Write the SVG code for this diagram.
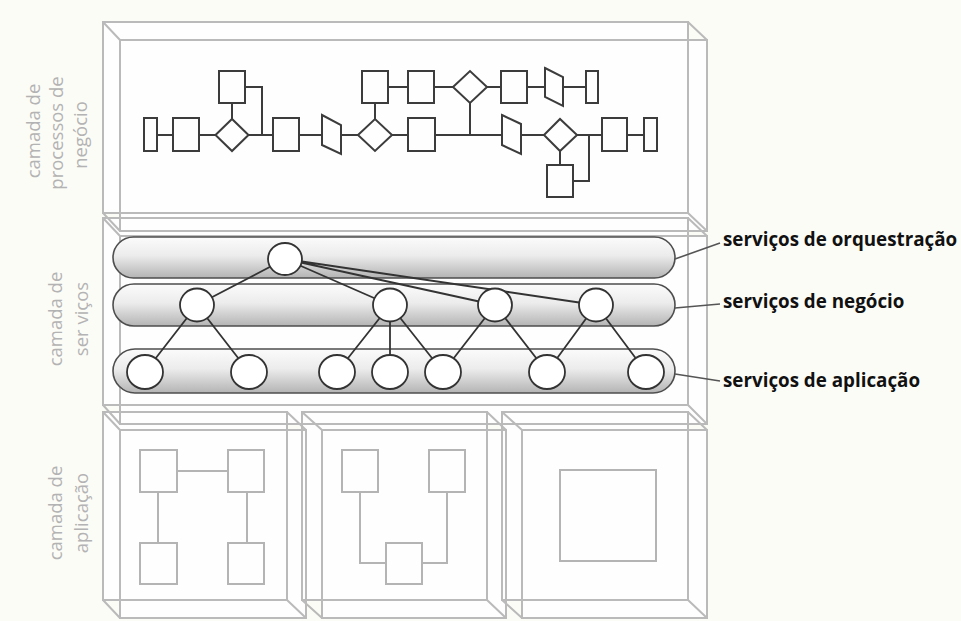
<svg xmlns="http://www.w3.org/2000/svg" width="961" height="621" viewBox="0 0 961 621">
<defs>
<linearGradient id="pillGrad" x1="0" y1="0" x2="0" y2="1">
<stop offset="0" stop-color="#fbfbfb"/>
<stop offset="0.45" stop-color="#ececec"/>
<stop offset="1" stop-color="#b4b4b4"/>
</linearGradient>
<style>
.bg{fill:#fcfcf7}
.boxfill{fill:#fefefe;stroke:none}
.box{fill:none;stroke:#bababa;stroke-width:2}
.app{fill:none;stroke:#b4b4b4;stroke-width:2}
.proc{fill:#fefefe;stroke:#3c3c3c;stroke-width:2}
.pline{fill:none;stroke:#3c3c3c;stroke-width:2}
.pill{fill:url(#pillGrad);stroke:#4e4e4e;stroke-width:1.6}
.svc{fill:#ffffff;stroke:#333333;stroke-width:1.8}
.cline{fill:none;stroke:#333333;stroke-width:1.8}
.lead{fill:none;stroke:#555555;stroke-width:1.6}
.layer{font-family:"Open Sans","Liberation Sans",sans-serif;font-size:18.5px;fill:#b3b3b3;text-anchor:middle}
.lbl{font-family:"Open Sans","Liberation Sans",sans-serif;font-size:18.8px;font-weight:bold;fill:#111111}
</style>
</defs>
<rect class="bg" x="0" y="0" width="961" height="621"/>

<g id="layer-fills">
<rect class="boxfill" x="103" y="22" width="585" height="191"/>
<rect class="boxfill" x="120" y="40" width="587" height="191"/>
<rect class="boxfill" x="103" y="218" width="585" height="187"/>
<rect class="boxfill" x="120" y="236" width="587" height="188"/>
<rect class="boxfill" x="103" y="412" width="184" height="188"/>
<rect class="boxfill" x="120" y="430" width="186" height="188"/>
<rect class="boxfill" x="302" y="412" width="185" height="188"/>
<rect class="boxfill" x="322" y="430" width="184" height="188"/>
<rect class="boxfill" x="502" y="412" width="186" height="188"/>
<rect class="boxfill" x="522" y="430" width="185" height="188"/>
</g>

<g id="layer-processos">
<rect class="box" x="103" y="22" width="585" height="191"/>
<rect class="box" x="120" y="40" width="587" height="191"/>
<path class="box" d="M103,22 L120,40 M688,22 L707,40 M103,213 L120,231 M688,213 L707,231"/>
</g>
<g id="layer-servicos">
<rect class="box" x="103" y="218" width="585" height="187"/>
<rect class="box" x="120" y="236" width="587" height="188"/>
<path class="box" d="M103,218 L120,236 M688,218 L707,236 M103,405 L120,424 M688,405 L707,424"/>
</g>
<g id="layer-aplicacao-1">
<rect class="box" x="103" y="412" width="184" height="188"/>
<rect class="box" x="120" y="430" width="186" height="188"/>
<path class="box" d="M103,412 L120,430 M287,412 L306,430 M103,600 L120,618 M287,600 L306,618"/>
<rect class="app" x="140" y="450" width="37" height="42"/>
<rect class="app" x="228" y="450" width="36" height="42"/>
<rect class="app" x="140" y="543" width="37" height="41"/>
<rect class="app" x="228" y="543" width="36" height="41"/>
<path class="app" d="M177,471 H228 M158,492 V543 M247,492 V543"/>
</g>
<g id="layer-aplicacao-2">
<rect class="box" x="302" y="412" width="185" height="188"/>
<rect class="box" x="322" y="430" width="184" height="188"/>
<path class="box" d="M302,412 L322,430 M487,412 L506,430 M302,600 L322,618 M487,600 L506,618"/>
<rect class="app" x="342" y="450" width="36" height="42"/>
<rect class="app" x="429" y="450" width="36" height="42"/>
<rect class="app" x="386" y="543" width="36" height="41"/>
<path class="app" d="M360,492 V563 H386 M447,492 V563 H422"/>
</g>
<g id="layer-aplicacao-3">
<rect class="box" x="502" y="412" width="186" height="188"/>
<rect class="box" x="522" y="430" width="185" height="188"/>
<path class="box" d="M502,412 L522,430 M688,412 L707,430 M502,600 L522,618 M688,600 L707,618"/>
<rect class="app" x="560" y="470" width="96" height="91"/>
</g>

<g id="layer-labels">
<text class="layer" transform="translate(40,131) rotate(-90)">camada de</text>
<text class="layer" transform="translate(63,133) rotate(-90)">processos de</text>
<text class="layer" transform="translate(87,135) rotate(-90)">negócio</text>
<text class="layer" transform="translate(62,319) rotate(-90)">camada de</text>
<text class="layer" transform="translate(88,319) rotate(-90)">ser viços</text>
<text class="layer" transform="translate(62,513) rotate(-90)">camada de</text>
<text class="layer" transform="translate(88,513) rotate(-90)">aplicação</text>
</g>

<g id="pill-orquestracao"><rect class="pill" x="113" y="237" width="562" height="41" rx="20.5"/></g>
<g id="pill-negocio"><rect class="pill" x="113" y="284" width="562" height="42" rx="21"/></g>
<g id="pill-aplicacao"><rect class="pill" x="113" y="349" width="562" height="44" rx="22"/></g>

<g id="connectors">
<path class="pline" d="M157,135 H173 M199,135 H216 M232,119 V103 M245,87 H262 V135 M248,135 H273 M299,135 H322 M341,135 H358 M375,119 V103 M388,87 H408 M434,87 H453 M487,87 H501 M527,87 H545 M563,87 H586 M392,135 H408 M435,135 H502 M470,103 V135 M521,135 H544 M577,135 H602 M560,151 V165 M573,181 H589 V135 M627,135 H644"/>
<path class="cline" d="M285,259 L197,305 M285,259 L390,305 M285,259 L495,305 M285,259 L596,305 M197,305 L145,372 M197,305 L249,372 M390,305 L337,372 M390,305 L390,372 M390,305 L443,372 M495,305 L443,372 M495,305 L547,372 M596,305 L547,372 M596,305 L646,372"/>
<path class="lead" d="M675,259 L720,243 M675,308 L720,304 M675,374 L720,381"/>
</g>

<g id="proc-t1"><rect class="proc" x="144" y="118" width="13" height="33"/></g>
<g id="proc-r1"><rect class="proc" x="173" y="118" width="26" height="33"/></g>
<g id="proc-d1"><polygon class="proc" points="215.5,135 232,119 248.5,135 232,151"/></g>
<g id="proc-r2"><rect class="proc" x="219" y="71" width="26" height="32"/></g>
<g id="proc-r3"><rect class="proc" x="273" y="118" width="26" height="33"/></g>
<g id="proc-p1"><polygon class="proc" points="322,115 341,125 341,154 322,145"/></g>
<g id="proc-d2"><polygon class="proc" points="358,135 375,119 392,135 375,151"/></g>
<g id="proc-r4"><rect class="proc" x="362" y="71" width="26" height="32"/></g>
<g id="proc-r5"><rect class="proc" x="408" y="71" width="26" height="32"/></g>
<g id="proc-d3"><polygon class="proc" points="453,87 470,71 487,87 470,103"/></g>
<g id="proc-r6"><rect class="proc" x="501" y="71" width="26" height="32"/></g>
<g id="proc-p2"><polygon class="proc" points="545,68 563,77 563,106 545,97"/></g>
<g id="proc-t2"><rect class="proc" x="586" y="71" width="12" height="32"/></g>
<g id="proc-r7"><rect class="proc" x="408" y="118" width="27" height="33"/></g>
<g id="proc-p3"><polygon class="proc" points="502,115 521,124 521,154 502,145"/></g>
<g id="proc-d4"><polygon class="proc" points="544,135 560,119 577,135 560,151"/></g>
<g id="proc-r8"><rect class="proc" x="602" y="118" width="25" height="33"/></g>
<g id="proc-t3"><rect class="proc" x="644" y="118" width="13" height="33"/></g>
<g id="proc-r9"><rect class="proc" x="547" y="165" width="26" height="32"/></g>

<g id="svc-o1"><ellipse class="svc" cx="285" cy="259" rx="17" ry="16"/></g>
<g id="svc-b1"><ellipse class="svc" cx="197" cy="305" rx="17" ry="16.5"/></g>
<g id="svc-b2"><ellipse class="svc" cx="390" cy="305" rx="17" ry="16.5"/></g>
<g id="svc-b3"><ellipse class="svc" cx="495" cy="305" rx="17" ry="16.5"/></g>
<g id="svc-b4"><ellipse class="svc" cx="596" cy="305" rx="17" ry="16.5"/></g>
<g id="svc-a1"><ellipse class="svc" cx="145" cy="372" rx="18" ry="17"/></g>
<g id="svc-a2"><ellipse class="svc" cx="249" cy="372" rx="18" ry="17"/></g>
<g id="svc-a3"><ellipse class="svc" cx="337" cy="372" rx="18" ry="17"/></g>
<g id="svc-a4"><ellipse class="svc" cx="390" cy="372" rx="18" ry="17"/></g>
<g id="svc-a5"><ellipse class="svc" cx="443" cy="372" rx="18" ry="17"/></g>
<g id="svc-a6"><ellipse class="svc" cx="547" cy="372" rx="18" ry="17"/></g>
<g id="svc-a7"><ellipse class="svc" cx="646" cy="372" rx="18" ry="17"/></g>

<g id="label-orquestracao"><text class="lbl" x="723" y="246">serviços de orquestração</text></g>
<g id="label-negocio"><text class="lbl" x="723" y="308">serviços de negócio</text></g>
<g id="label-aplicacao"><text class="lbl" x="723" y="387">serviços de aplicação</text></g>
</svg>
